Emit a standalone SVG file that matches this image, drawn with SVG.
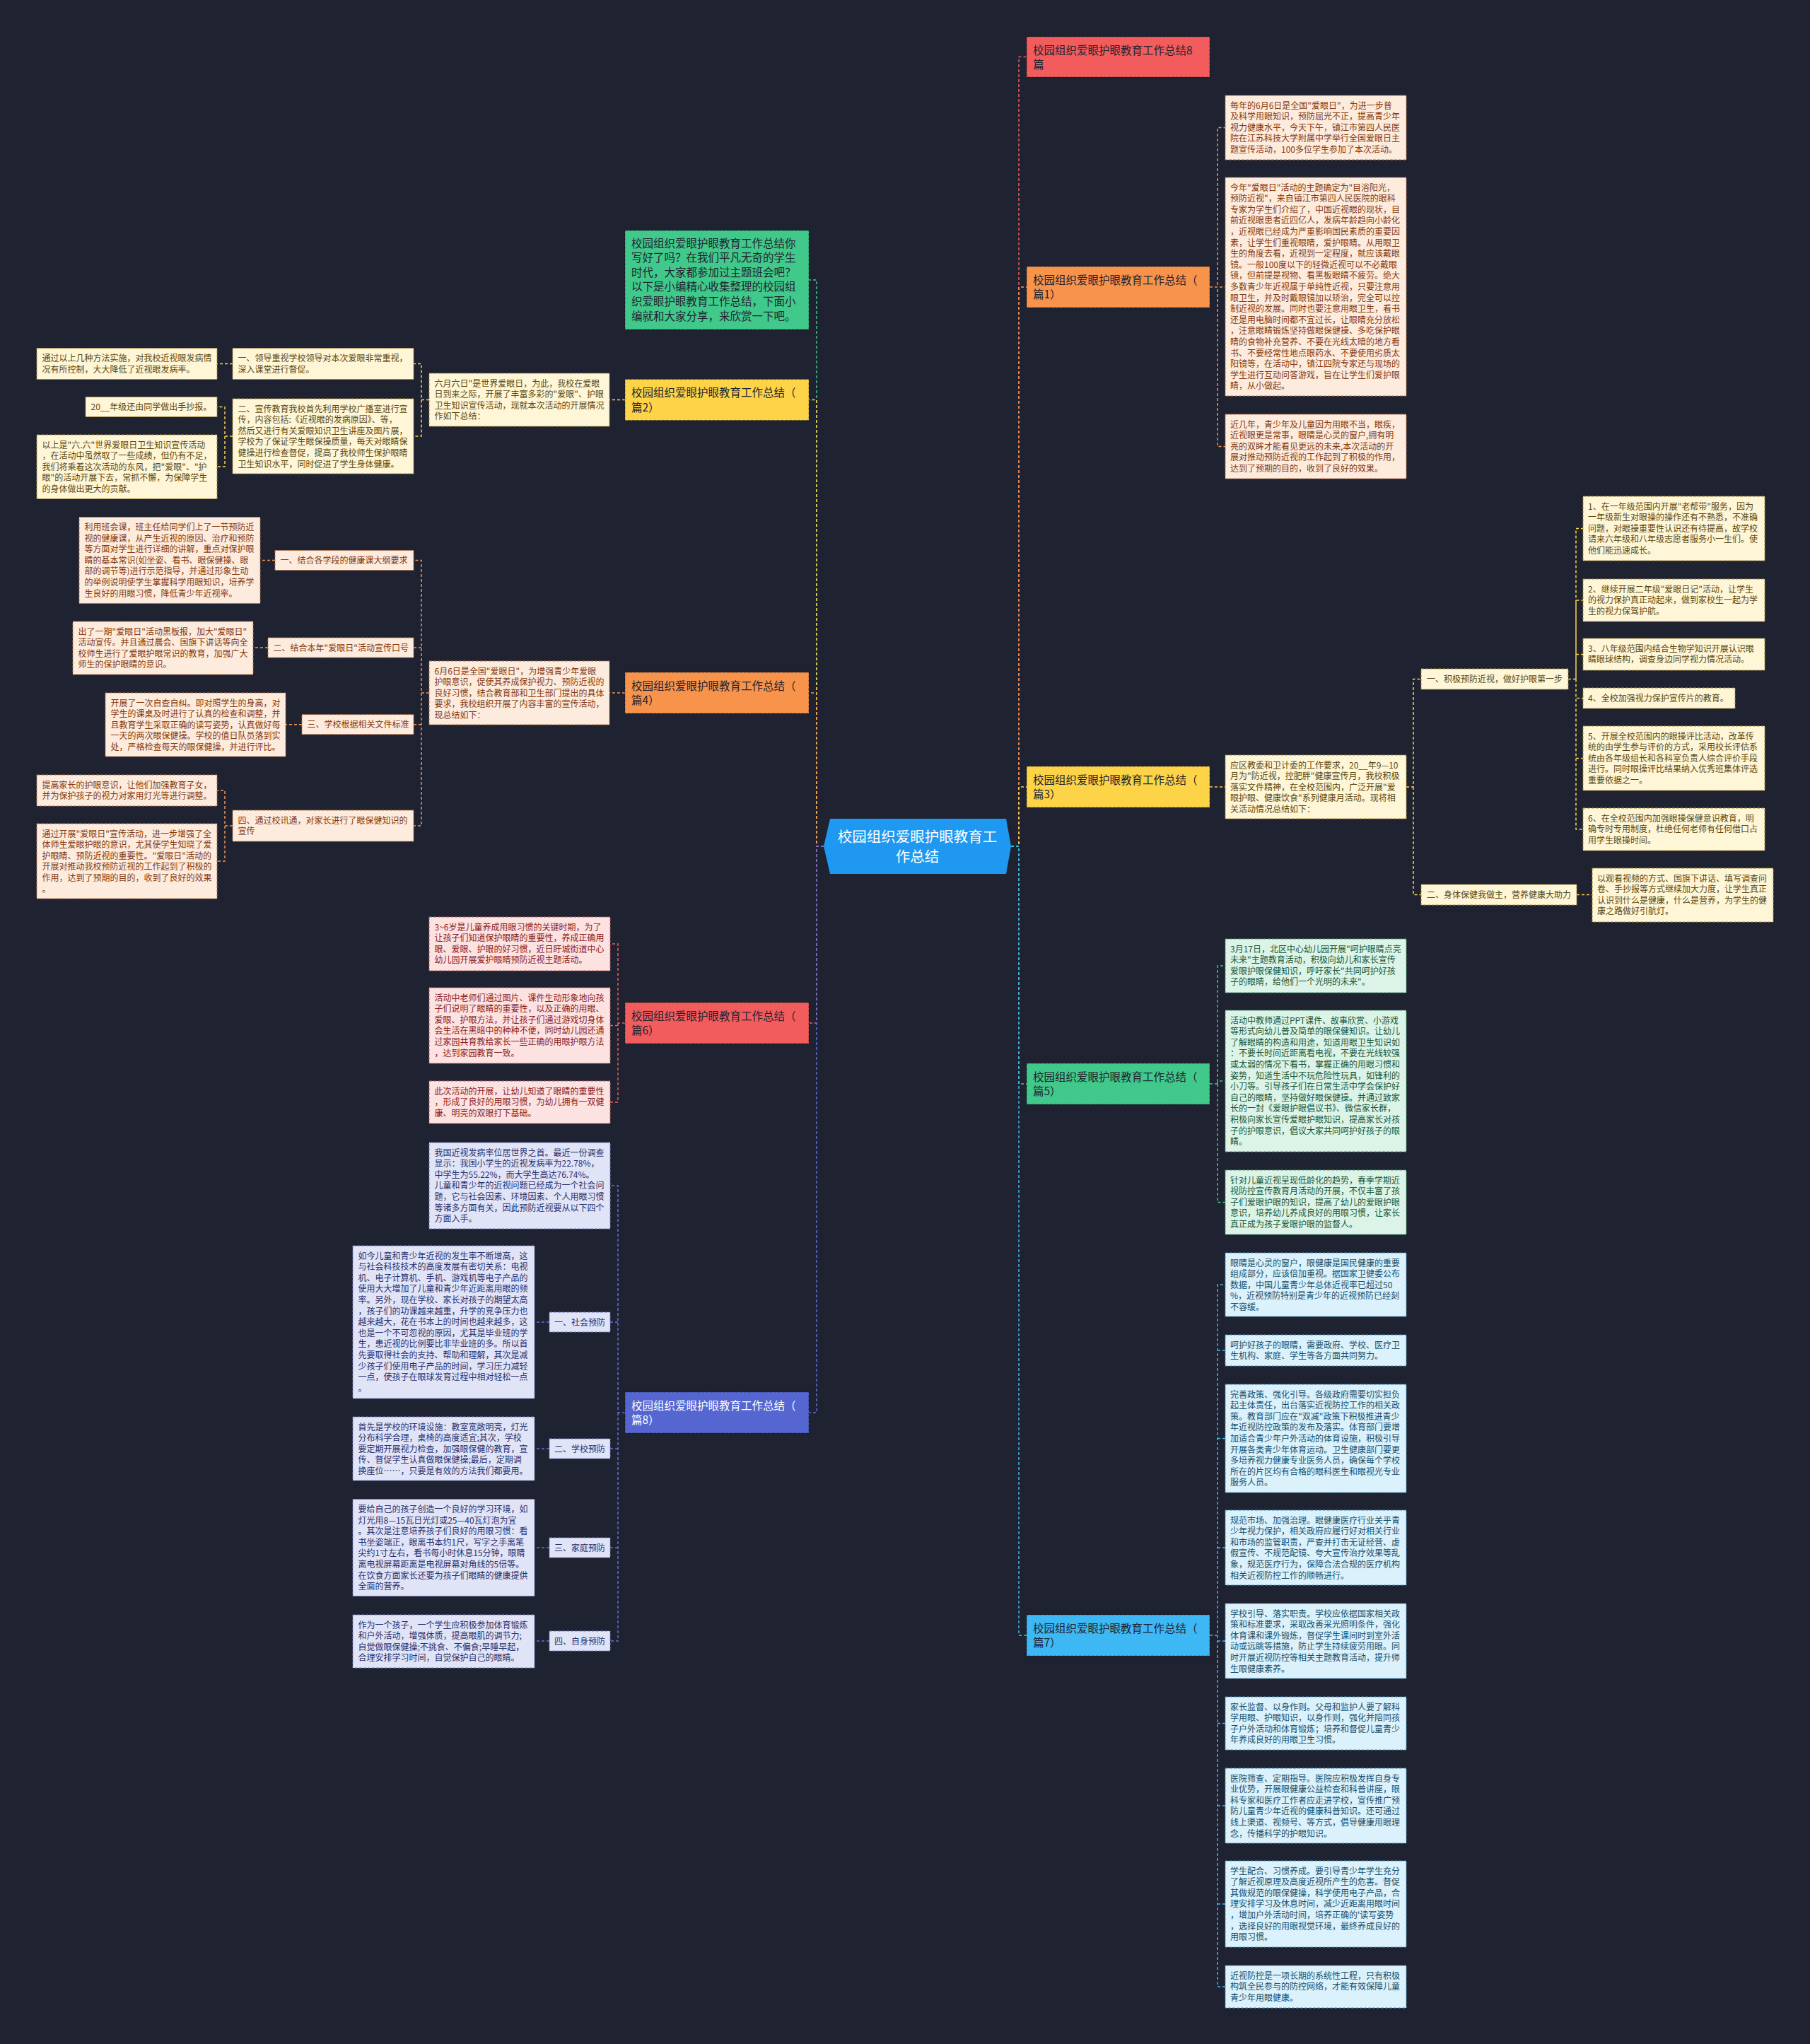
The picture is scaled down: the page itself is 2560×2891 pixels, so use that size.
<svg xmlns="http://www.w3.org/2000/svg" width="2560" height="2891" viewBox="0 0 2560 2891">
<style>
text{font-family:"Noto Sans CJK SC","Noto Sans",sans-serif;font-size:12px}
.bt{font-size:15.5px;fill:#222331}
.bw{font-size:15.5px;fill:#ffffff}
.ct{font-size:20.5px;fill:#ffffff}
.bn{stroke:rgba(0,0,0,0.35);stroke-width:1.2;stroke-dasharray:4 2}
.c{fill:none;stroke-width:1.5;stroke-dasharray:4 3}
.cr{stroke:#f25c5c}.co{stroke:#f7934b}.cy{stroke:#fdd447}.cg{stroke:#40c98a}.cb{stroke:#3db8f5}.cp{stroke:#6272d8}
.lo{fill:#fdecdd;stroke:#b5764c;stroke-width:1;stroke-dasharray:4 2}
.ly{fill:#fff6d8;stroke:#a88f3c;stroke-width:1;stroke-dasharray:4 2}
.lg{fill:#dcf4e7;stroke:#4f9a72;stroke-width:1;stroke-dasharray:4 2}
.lr{fill:#fde2e2;stroke:#c06060;stroke-width:1;stroke-dasharray:4 2}
.lb{fill:#dbf1fb;stroke:#4f93b8;stroke-width:1;stroke-dasharray:4 2}
.lp{fill:#e1e4f7;stroke:#7580c0;stroke-width:1;stroke-dasharray:4 2}
.to{fill:#85380f}.ty{fill:#5a480e}.tg{fill:#17573a}.tr{fill:#8c1b1b}.tb{fill:#15506e}.tp{fill:#26306e}
</style>
<rect width="2560" height="2891" fill="#1f2231"/>
<g id="connectors">
<path class="c cr" d="M1430 1197 H1441 V80.5 H1452"/>
<path class="c co" d="M1430 1197 H1441 V406 H1452"/>
<path class="c cy" d="M1430 1197 H1441 V1113 H1452"/>
<path class="c cg" d="M1430 1197 H1441 V1533 H1452"/>
<path class="c cb" d="M1430 1197 H1441 V2313 H1452"/>
<path class="c cg" d="M1165 1197 H1155 V396 H1144"/>
<path class="c cy" d="M1165 1197 H1155 V565.5 H1144"/>
<path class="c co" d="M1165 1197 H1155 V980 H1144"/>
<path class="c cr" d="M1165 1197 H1155 V1447 H1144"/>
<path class="c cp" d="M1165 1197 H1155 V1998 H1144"/>
<path class="c co" d="M1711 406 H1722 V180.5 H1733 M1711 406 H1733 M1711 406 H1722 V631.5 H1733"/>
<path class="c cy" d="M1711 1113 H1733 M1989 1113 H1999 V960.5 H2010 M1999 1113 V1265.5 H2010"/>
<path class="c cy" d="M2218 960.5 H2229 V747.5 H2239 M2229 960.5 V849 H2239 M2229 960.5 V925.5 H2239 M2229 960.5 V987.5 H2239 M2229 960.5 V1072.5 H2239 M2229 960.5 V1173 H2239 M2230 1265.5 H2252"/>
<path class="c cg" d="M1711 1533 H1722 V1366 H1733 M1722 1533 V1529 H1733 M1722 1533 V1700.5 H1733"/>
<path class="c cb" d="M1711 2313 H1722 V1817 H1733 M1722 1910 H1733 M1722 2034.5 H1733 M1722 2189 H1733 M1722 2313 V2810 H1733 M1722 2321 H1733 M1722 2437.5 H1733 M1722 2554 H1733 M1722 2693 H1733"/>
<path class="c cy" d="M884 565.5 H862 M607 565.5 H596 V514.5 H585 M596 565.5 V617 H585 M329 514.5 H307 M329 617 H318 V575.5 H307 M318 617 V660 H307"/>
<path class="c co" d="M884 980 H862 M607 980 H596 V792.5 H585 M596 980 V1168 H585 M596 916 H585 M596 1024.7 H585 M389 792.5 H368 M379 916 H358 M427 1024.7 H404 M329 1168 H318 V1118 H307 M318 1168 V1218 H307"/>
<path class="c cr" d="M884 1447 H874 V1335 H863 M874 1447 V1559 H863 M874 1450.5 H863"/>
<path class="c cp" d="M884 1998 H874 V1677 H863 M874 1998 V2321 H863 M874 1870 H863 M874 2049 H863 M874 2189 H863 M777 1870 H756 M777 2049 H756 M777 2189 H756 M777 2321 H756"/>
</g>
<g id="center">
<polygon points="1165,1197 1174,1158 1423,1158 1430,1197 1423,1236 1174,1236" fill="#1e98f0"/>
<text class="ct" x="1297.5" y="1190.5" text-anchor="middle">校园组织爱眼护眼教育工</text>
<text class="ct" x="1297.5" y="1218.5" text-anchor="middle">作总结</text>
</g>
<g id="title">
<rect class="bn" x="1452" y="52" width="259" height="57" fill="#f25c5c"/>
<text class="bt" x="1461" y="76.5"><tspan x="1461" dy="0">校园组织爱眼护眼教育工作总结8</tspan><tspan x="1461" dy="20.6">篇</tspan></text>
</g>
<g id="p1">
<rect class="bn" x="1452" y="377" width="259" height="58" fill="#f7934b"/>
<text class="bt" x="1461" y="401.5"><tspan x="1461" dy="0">校园组织爱眼护眼教育工作总结（</tspan><tspan x="1461" dy="20.6">篇1）</tspan></text>
</g>
<g id="p1-a">
<rect class="lo" x="1733" y="135" width="256" height="91"/>
<text class="to" x="1740" y="153.5"><tspan x="1740" dy="0">每年的6月6日是全国"爱眼日"，为进一步普</tspan><tspan x="1740" dy="15.6">及科学用眼知识，预防屈光不正，提高青少年</tspan><tspan x="1740" dy="15.6">视力健康水平，今天下午，镇江市第四人民医</tspan><tspan x="1740" dy="15.6">院在江苏科技大学附属中学举行全国爱眼日主</tspan><tspan x="1740" dy="15.6">题宣传活动，100多位学生参加了本次活动。</tspan></text>
</g>
<g id="p1-b">
<rect class="lo" x="1733" y="251" width="256" height="309"/>
<text class="to" x="1740" y="269.5"><tspan x="1740" dy="0">今年"爱眼日"活动的主题确定为"目浴阳光，</tspan><tspan x="1740" dy="15.6">预防近视"，来自镇江市第四人民医院的眼科</tspan><tspan x="1740" dy="15.6">专家为学生们介绍了，中国近视眼的现状，目</tspan><tspan x="1740" dy="15.6">前近视眼患者近四亿人，发病年龄趋向小龄化</tspan><tspan x="1740" dy="15.6">，近视眼已经成为严重影响国民素质的重要因</tspan><tspan x="1740" dy="15.6">素，让学生们重视眼睛，爱护眼睛。从用眼卫</tspan><tspan x="1740" dy="15.6">生的角度去看，近视到一定程度，就应该戴眼</tspan><tspan x="1740" dy="15.6">镜。一般100度以下的轻微近视可以不必戴眼</tspan><tspan x="1740" dy="15.6">镜，但前提是视物、看黑板眼睛不疲劳。绝大</tspan><tspan x="1740" dy="15.6">多数青少年近视属于单纯性近视，只要注意用</tspan><tspan x="1740" dy="15.6">眼卫生，并及时戴眼镜加以矫治，完全可以控</tspan><tspan x="1740" dy="15.6">制近视的发展。同时也要注意用眼卫生，看书</tspan><tspan x="1740" dy="15.6">还是用电脑时间都不宜过长，让眼睛充分放松</tspan><tspan x="1740" dy="15.6">，注意眼睛锻炼坚持做眼保健操、多吃保护眼</tspan><tspan x="1740" dy="15.6">睛的食物补充营养、不要在光线太暗的地方看</tspan><tspan x="1740" dy="15.6">书、不要经常性地点眼药水、不要使用劣质太</tspan><tspan x="1740" dy="15.6">阳镜等，在活动中，镇江四院专家还与现场的</tspan><tspan x="1740" dy="15.6">学生进行互动问答游戏，旨在让学生们爱护眼</tspan><tspan x="1740" dy="15.6">睛，从小做起。</tspan></text>
</g>
<g id="p1-c">
<rect class="lo" x="1733" y="586" width="256" height="91"/>
<text class="to" x="1740" y="604.5"><tspan x="1740" dy="0">近几年，青少年及儿童因为用眼不当，眼疾，</tspan><tspan x="1740" dy="15.6">近视眼更是常事，眼睛是心灵的窗户,拥有明</tspan><tspan x="1740" dy="15.6">亮的双眸才能看见更远的未来,本次活动的开</tspan><tspan x="1740" dy="15.6">展对推动预防近视的工作起到了积极的作用，</tspan><tspan x="1740" dy="15.6">达到了预期的目的，收到了良好的效果。</tspan></text>
</g>
<g id="p3">
<rect class="bn" x="1452" y="1084" width="259" height="58" fill="#fdd447"/>
<text class="bt" x="1461" y="1108.5"><tspan x="1461" dy="0">校园组织爱眼护眼教育工作总结（</tspan><tspan x="1461" dy="20.6">篇3）</tspan></text>
</g>
<g id="p3-intro">
<rect class="ly" x="1733" y="1068" width="256" height="90"/>
<text class="ty" x="1740" y="1086.5"><tspan x="1740" dy="0">应区教委和卫计委的工作要求，20__年9—10</tspan><tspan x="1740" dy="15.6">月为"防近视，控肥胖"健康宣传月，我校积极</tspan><tspan x="1740" dy="15.6">落实文件精神，在全校范围内，广泛开展"爱</tspan><tspan x="1740" dy="15.6">眼护眼、健康饮食"系列健康月活动。现将相</tspan><tspan x="1740" dy="15.6">关活动情况总结如下：</tspan></text>
</g>
<g id="p3-s1">
<rect class="ly" x="2010" y="946" width="208" height="29"/>
<text class="ty" x="2018" y="964.5">一、积极预防近视，做好护眼第一步</text>
</g>
<g id="p3-s2">
<rect class="ly" x="2010" y="1251" width="220" height="29"/>
<text class="ty" x="2018" y="1269.5">二、身体保健我做主，营养健康大助力</text>
</g>
<g id="p3-s1-1">
<rect class="ly" x="2239" y="702" width="257" height="91"/>
<text class="ty" x="2246" y="720.5"><tspan x="2246" dy="0">1、在一年级范围内开展"老帮带"服务，因为</tspan><tspan x="2246" dy="15.6">一年级新生对眼操的操作还有不熟悉，不准确</tspan><tspan x="2246" dy="15.6">问题，对眼操重要性认识还有待提高，故学校</tspan><tspan x="2246" dy="15.6">请来六年级和八年级志愿者服务小一生们。使</tspan><tspan x="2246" dy="15.6">他们能迅速成长。</tspan></text>
</g>
<g id="p3-s1-2">
<rect class="ly" x="2239" y="819" width="257" height="60"/>
<text class="ty" x="2246" y="837.5"><tspan x="2246" dy="0">2、继续开展二年级"爱眼日记"活动，让学生</tspan><tspan x="2246" dy="15.6">的视力保护真正动起来，做到家校生一起为学</tspan><tspan x="2246" dy="15.6">生的视力保驾护航。</tspan></text>
</g>
<g id="p3-s1-3">
<rect class="ly" x="2239" y="903" width="257" height="45"/>
<text class="ty" x="2246" y="921.5"><tspan x="2246" dy="0">3、八年级范围内结合生物学知识开展认识眼</tspan><tspan x="2246" dy="15.6">睛眼球结构，调查身边同学视力情况活动。</tspan></text>
</g>
<g id="p3-s1-4">
<rect class="ly" x="2239" y="973" width="215" height="29"/>
<text class="ty" x="2246" y="991.5">4、全校加强视力保护宣传片的教育。</text>
</g>
<g id="p3-s1-5">
<rect class="ly" x="2239" y="1027" width="257" height="91"/>
<text class="ty" x="2246" y="1045.5"><tspan x="2246" dy="0">5、开展全校范围内的眼操评比活动，改革传</tspan><tspan x="2246" dy="15.6">统的由学生参与评价的方式，采用校长评估系</tspan><tspan x="2246" dy="15.6">统由各年级组长和各科室负责人综合评价手段</tspan><tspan x="2246" dy="15.6">进行。同时眼操评比结果纳入优秀班集体评选</tspan><tspan x="2246" dy="15.6">重要依据之一。</tspan></text>
</g>
<g id="p3-s1-6">
<rect class="ly" x="2239" y="1143" width="257" height="60"/>
<text class="ty" x="2246" y="1161.5"><tspan x="2246" dy="0">6、在全校范围内加强眼操保健意识教育，明</tspan><tspan x="2246" dy="15.6">确专时专用制度，杜绝任何老师有任何借口占</tspan><tspan x="2246" dy="15.6">用学生眼操时间。</tspan></text>
</g>
<g id="p3-s2-1">
<rect class="ly" x="2252" y="1228" width="256" height="76"/>
<text class="ty" x="2259" y="1246.5"><tspan x="2259" dy="0">以观看视频的方式、国旗下讲话、填写调查问</tspan><tspan x="2259" dy="15.6">卷、手抄报等方式继续加大力度，让学生真正</tspan><tspan x="2259" dy="15.6">认识到什么是健康，什么是营养，为学生的健</tspan><tspan x="2259" dy="15.6">康之路做好引航灯。</tspan></text>
</g>
<g id="p5">
<rect class="bn" x="1452" y="1504" width="259" height="58" fill="#40c98a"/>
<text class="bt" x="1461" y="1528.5"><tspan x="1461" dy="0">校园组织爱眼护眼教育工作总结（</tspan><tspan x="1461" dy="20.6">篇5）</tspan></text>
</g>
<g id="p5-a">
<rect class="lg" x="1733" y="1328" width="256" height="76"/>
<text class="tg" x="1740" y="1346.5"><tspan x="1740" dy="0">3月17日，北区中心幼儿园开展"呵护眼睛点亮</tspan><tspan x="1740" dy="15.6">未来"主题教育活动，积极向幼儿和家长宣传</tspan><tspan x="1740" dy="15.6">爱眼护眼保健知识，呼吁家长"共同呵护好孩</tspan><tspan x="1740" dy="15.6">子的眼睛，给他们一个光明的未来"。</tspan></text>
</g>
<g id="p5-b">
<rect class="lg" x="1733" y="1429" width="256" height="200"/>
<text class="tg" x="1740" y="1447.5"><tspan x="1740" dy="0">活动中教师通过PPT课件、故事欣赏、小游戏</tspan><tspan x="1740" dy="15.6">等形式向幼儿普及简单的眼保健知识。让幼儿</tspan><tspan x="1740" dy="15.6">了解眼睛的构造和用途，知道用眼卫生知识如</tspan><tspan x="1740" dy="15.6">：不要长时间近距离看电视，不要在光线较强</tspan><tspan x="1740" dy="15.6">或太弱的情况下看书，掌握正确的用眼习惯和</tspan><tspan x="1740" dy="15.6">姿势，知道生活中不玩危险性玩具，如锋利的</tspan><tspan x="1740" dy="15.6">小刀等。引导孩子们在日常生活中学会保护好</tspan><tspan x="1740" dy="15.6">自己的眼睛，坚持做好眼保健操。并通过致家</tspan><tspan x="1740" dy="15.6">长的一封《爱眼护眼倡议书》、微信家长群，</tspan><tspan x="1740" dy="15.6">积极向家长宣传爱眼护眼知识，提高家长对孩</tspan><tspan x="1740" dy="15.6">子的护眼意识，倡议大家共同呵护好孩子的眼</tspan><tspan x="1740" dy="15.6">睛。</tspan></text>
</g>
<g id="p5-c">
<rect class="lg" x="1733" y="1655" width="256" height="91"/>
<text class="tg" x="1740" y="1673.5"><tspan x="1740" dy="0">针对儿童近视呈现低龄化的趋势，春季学期近</tspan><tspan x="1740" dy="15.6">视防控宣传教育月活动的开展，不仅丰富了孩</tspan><tspan x="1740" dy="15.6">子们爱眼护眼的知识，提高了幼儿的爱眼护眼</tspan><tspan x="1740" dy="15.6">意识，培养幼儿养成良好的用眼习惯，让家长</tspan><tspan x="1740" dy="15.6">真正成为孩子爱眼护眼的监督人。</tspan></text>
</g>
<g id="p7">
<rect class="bn" x="1452" y="2284" width="259" height="58" fill="#3db8f5"/>
<text class="bt" x="1461" y="2308.5"><tspan x="1461" dy="0">校园组织爱眼护眼教育工作总结（</tspan><tspan x="1461" dy="20.6">篇7）</tspan></text>
</g>
<g id="p7-a">
<rect class="lb" x="1733" y="1772" width="256" height="90"/>
<text class="tb" x="1740" y="1790.5"><tspan x="1740" dy="0">眼睛是心灵的窗户，眼健康是国民健康的重要</tspan><tspan x="1740" dy="15.6">组成部分，应该倍加重视。据国家卫健委公布</tspan><tspan x="1740" dy="15.6">数据，中国儿童青少年总体近视率已超过50</tspan><tspan x="1740" dy="15.6">%，近视预防特别是青少年的近视预防已经刻</tspan><tspan x="1740" dy="15.6">不容缓。</tspan></text>
</g>
<g id="p7-b">
<rect class="lb" x="1733" y="1888" width="256" height="44"/>
<text class="tb" x="1740" y="1906.5"><tspan x="1740" dy="0">呵护好孩子的眼睛，需要政府、学校、医疗卫</tspan><tspan x="1740" dy="15.6">生机构、家庭、学生等各方面共同努力。</tspan></text>
</g>
<g id="p7-c">
<rect class="lb" x="1733" y="1958" width="256" height="153"/>
<text class="tb" x="1740" y="1976.5"><tspan x="1740" dy="0">完善政策、强化引导。各级政府需要切实担负</tspan><tspan x="1740" dy="15.6">起主体责任，出台落实近视防控工作的相关政</tspan><tspan x="1740" dy="15.6">策。教育部门应在"双减"政策下积极推进青少</tspan><tspan x="1740" dy="15.6">年近视防控政策的发布及落实。体育部门要增</tspan><tspan x="1740" dy="15.6">加适合青少年户外活动的体育设施，积极引导</tspan><tspan x="1740" dy="15.6">开展各类青少年体育运动。卫生健康部门要更</tspan><tspan x="1740" dy="15.6">多培养视力健康专业医务人员，确保每个学校</tspan><tspan x="1740" dy="15.6">所在的片区均有合格的眼科医生和眼视光专业</tspan><tspan x="1740" dy="15.6">服务人员。</tspan></text>
</g>
<g id="p7-d">
<rect class="lb" x="1733" y="2136" width="256" height="106"/>
<text class="tb" x="1740" y="2154.5"><tspan x="1740" dy="0">规范市场、加强治理。眼健康医疗行业关乎青</tspan><tspan x="1740" dy="15.6">少年视力保护，相关政府应履行好对相关行业</tspan><tspan x="1740" dy="15.6">和市场的监管职责，严查并打击无证经营、虚</tspan><tspan x="1740" dy="15.6">假宣传、不规范配镜、夸大宣传治疗效果等乱</tspan><tspan x="1740" dy="15.6">象，规范医疗行为，保障合法合规的医疗机构</tspan><tspan x="1740" dy="15.6">相关近视防控工作的顺畅进行。</tspan></text>
</g>
<g id="p7-e">
<rect class="lb" x="1733" y="2268" width="256" height="106"/>
<text class="tb" x="1740" y="2286.5"><tspan x="1740" dy="0">学校引导、落实职责。学校应依据国家相关政</tspan><tspan x="1740" dy="15.6">策和标准要求，采取改善采光照明条件，强化</tspan><tspan x="1740" dy="15.6">体育课和课外锻炼，督促学生课间时到室外活</tspan><tspan x="1740" dy="15.6">动或远眺等措施，防止学生持续疲劳用眼。同</tspan><tspan x="1740" dy="15.6">时开展近视防控等相关主题教育活动，提升师</tspan><tspan x="1740" dy="15.6">生眼健康素养。</tspan></text>
</g>
<g id="p7-f">
<rect class="lb" x="1733" y="2400" width="256" height="75"/>
<text class="tb" x="1740" y="2418.5"><tspan x="1740" dy="0">家长监督、以身作则。父母和监护人要了解科</tspan><tspan x="1740" dy="15.6">学用眼、护眼知识，以身作则，强化并陪同孩</tspan><tspan x="1740" dy="15.6">子户外活动和体育锻炼；培养和督促儿童青少</tspan><tspan x="1740" dy="15.6">年养成良好的用眼卫生习惯。</tspan></text>
</g>
<g id="p7-g">
<rect class="lb" x="1733" y="2501" width="256" height="106"/>
<text class="tb" x="1740" y="2519.5"><tspan x="1740" dy="0">医院筛查、定期指导。医院应积极发挥自身专</tspan><tspan x="1740" dy="15.6">业优势，开展眼健康公益检查和科普讲座，眼</tspan><tspan x="1740" dy="15.6">科专家和医疗工作者应走进学校，宣传推广预</tspan><tspan x="1740" dy="15.6">防儿童青少年近视的健康科普知识。还可通过</tspan><tspan x="1740" dy="15.6">线上渠道、视频号、等方式，倡导健康用眼理</tspan><tspan x="1740" dy="15.6">念，传播科学的护眼知识。</tspan></text>
</g>
<g id="p7-h">
<rect class="lb" x="1733" y="2632" width="256" height="122"/>
<text class="tb" x="1740" y="2650.5"><tspan x="1740" dy="0">学生配合、习惯养成。要引导青少年学生充分</tspan><tspan x="1740" dy="15.6">了解近视原理及高度近视所产生的危害。督促</tspan><tspan x="1740" dy="15.6">其做规范的眼保健操，科学使用电子产品，合</tspan><tspan x="1740" dy="15.6">理安排学习及休息时间，减少近距离用眼时间</tspan><tspan x="1740" dy="15.6">，增加户外活动时间，培养正确的'读写姿势</tspan><tspan x="1740" dy="15.6">，选择良好的用眼视觉环境，最终养成良好的</tspan><tspan x="1740" dy="15.6">用眼习惯。</tspan></text>
</g>
<g id="p7-i">
<rect class="lb" x="1733" y="2780" width="256" height="60"/>
<text class="tb" x="1740" y="2798.5"><tspan x="1740" dy="0">近视防控是一项长期的系统性工程，只有积极</tspan><tspan x="1740" dy="15.6">构筑全民参与的防控网络，才能有效保障儿童</tspan><tspan x="1740" dy="15.6">青少年用眼健康。</tspan></text>
</g>
<g id="intro">
<rect class="bn" x="884" y="326" width="260" height="140" fill="#40c98a"/>
<text class="bt" x="893" y="349.5"><tspan x="893" dy="0">校园组织爱眼护眼教育工作总结你</tspan><tspan x="893" dy="20.6">写好了吗？在我们平凡无奇的学生</tspan><tspan x="893" dy="20.6">时代，大家都参加过主题班会吧？</tspan><tspan x="893" dy="20.6">以下是小编精心收集整理的校园组</tspan><tspan x="893" dy="20.6">织爱眼护眼教育工作总结，下面小</tspan><tspan x="893" dy="20.6">编就和大家分享，来欣赏一下吧。</tspan></text>
</g>
<g id="p2">
<rect class="bn" x="884" y="536.5" width="260" height="58" fill="#fdd447"/>
<text class="bt" x="893" y="561"><tspan x="893" dy="0">校园组织爱眼护眼教育工作总结（</tspan><tspan x="893" dy="20.6">篇2）</tspan></text>
</g>
<g id="p2-intro">
<rect class="ly" x="607" y="528" width="255" height="75"/>
<text class="ty" x="614.5" y="546.5"><tspan x="614.5" dy="0">六月六日"是世界爱眼日，为此，我校在爱眼</tspan><tspan x="614.5" dy="15.6">日到来之际，开展了丰富多彩的"爱眼"、护眼</tspan><tspan x="614.5" dy="15.6">卫生知识宣传活动，现就本次活动的开展情况</tspan><tspan x="614.5" dy="15.6">作如下总结：</tspan></text>
</g>
<g id="p2-s1">
<rect class="ly" x="329" y="492.5" width="256" height="44"/>
<text class="ty" x="336.5" y="511"><tspan x="336.5" dy="0">一、领导重视学校领导对本次爱眼非常重视，</tspan><tspan x="336.5" dy="15.6">深入课堂进行督促。</tspan></text>
</g>
<g id="p2-s2">
<rect class="ly" x="329" y="564" width="256" height="106"/>
<text class="ty" x="336.5" y="582.5"><tspan x="336.5" dy="0">二、宣传教育我校首先利用学校广播室进行宣</tspan><tspan x="336.5" dy="15.6">传，内容包括:《近视眼的发病原因》、等，</tspan><tspan x="336.5" dy="15.6">然后又进行有关爱眼知识卫生讲座及图片展，</tspan><tspan x="336.5" dy="15.6">学校为了保证学生眼保操质量，每天对眼睛保</tspan><tspan x="336.5" dy="15.6">健操进行检查督促，提高了我校师生保护眼睛</tspan><tspan x="336.5" dy="15.6">卫生知识水平，同时促进了学生身体健康。</tspan></text>
</g>
<g id="p2-s1-1">
<rect class="ly" x="52" y="492.5" width="255" height="44"/>
<text class="ty" x="59.5" y="511"><tspan x="59.5" dy="0">通过以上几种方法实施，对我校近视眼发病情</tspan><tspan x="59.5" dy="15.6">况有所控制，大大降低了近视眼发病率。</tspan></text>
</g>
<g id="p2-s2-1">
<rect class="ly" x="121" y="561.5" width="186" height="28"/>
<text class="ty" x="128.5" y="580">20__年级还由同学做出手抄报。</text>
</g>
<g id="p2-s2-2">
<rect class="ly" x="52" y="615" width="255" height="90.5"/>
<text class="ty" x="59.5" y="633.5"><tspan x="59.5" dy="0">以上是"六.六"世界爱眼日卫生知识宣传活动</tspan><tspan x="59.5" dy="15.6">，在活动中虽然取了一些成绩，但仍有不足，</tspan><tspan x="59.5" dy="15.6">我们将乘着这次活动的东风，把"爱眼"、"护</tspan><tspan x="59.5" dy="15.6">眼"的活动开展下去，常抓不懈，为保障学生</tspan><tspan x="59.5" dy="15.6">的身体做出更大的贡献。</tspan></text>
</g>
<g id="p4">
<rect class="bn" x="884" y="951" width="260" height="58" fill="#f7934b"/>
<text class="bt" x="893" y="975.5"><tspan x="893" dy="0">校园组织爱眼护眼教育工作总结（</tspan><tspan x="893" dy="20.6">篇4）</tspan></text>
</g>
<g id="p4-intro">
<rect class="lo" x="607" y="935" width="255" height="90"/>
<text class="to" x="614.5" y="953.5"><tspan x="614.5" dy="0">6月6日是全国"爱眼日"，为增强青少年爱眼</tspan><tspan x="614.5" dy="15.6">护眼意识，促使其养成保护视力、预防近视的</tspan><tspan x="614.5" dy="15.6">良好习惯，结合教育部和卫生部门提出的具体</tspan><tspan x="614.5" dy="15.6">要求，我校组织开展了内容丰富的宣传活动，</tspan><tspan x="614.5" dy="15.6">现总结如下：</tspan></text>
</g>
<g id="p4-s1">
<rect class="lo" x="389" y="778.5" width="196" height="28"/>
<text class="to" x="396.5" y="797">一、结合各学段的健康课大纲要求</text>
</g>
<g id="p4-s2">
<rect class="lo" x="379" y="902" width="206" height="28"/>
<text class="to" x="386.5" y="920.5">二、结合本年"爱眼日"活动宣传口号</text>
</g>
<g id="p4-s3">
<rect class="lo" x="427" y="1010.7" width="158" height="28"/>
<text class="to" x="434.5" y="1029.2">三、学校根据相关文件标准</text>
</g>
<g id="p4-s4">
<rect class="lo" x="329" y="1146" width="256" height="44"/>
<text class="to" x="336.5" y="1164.5"><tspan x="336.5" dy="0">四、通过校讯通，对家长进行了眼保健知识的</tspan><tspan x="336.5" dy="15.6">宣传</tspan></text>
</g>
<g id="p4-s1-1">
<rect class="lo" x="112" y="731.5" width="256" height="122"/>
<text class="to" x="119.5" y="750"><tspan x="119.5" dy="0">利用班会课，班主任给同学们上了一节预防近</tspan><tspan x="119.5" dy="15.6">视的健康课，从产生近视的原因、治疗和预防</tspan><tspan x="119.5" dy="15.6">等方面对学生进行详细的讲解，重点对保护眼</tspan><tspan x="119.5" dy="15.6">睛的基本常识(如坐姿、看书、眼保健操、眼</tspan><tspan x="119.5" dy="15.6">部的调节等)进行示范指导，并通过形象生动</tspan><tspan x="119.5" dy="15.6">的举例说明使学生掌握科学用眼知识，培养学</tspan><tspan x="119.5" dy="15.6">生良好的用眼习惯，降低青少年近视率。</tspan></text>
</g>
<g id="p4-s2-1">
<rect class="lo" x="103" y="879" width="255" height="75"/>
<text class="to" x="110.5" y="897.5"><tspan x="110.5" dy="0">出了一期"爱眼日"活动黑板报，加大"爱眼日"</tspan><tspan x="110.5" dy="15.6">活动宣传。并且通过晨会、国旗下讲话等向全</tspan><tspan x="110.5" dy="15.6">校师生进行了爱眼护眼常识的教育，加强广大</tspan><tspan x="110.5" dy="15.6">师生的保护眼睛的意识。</tspan></text>
</g>
<g id="p4-s3-1">
<rect class="lo" x="149" y="980" width="255" height="90"/>
<text class="to" x="156.5" y="998.5"><tspan x="156.5" dy="0">开展了一次自查自纠。即对照学生的身高，对</tspan><tspan x="156.5" dy="15.6">学生的课桌及时进行了认真的检查和调整，并</tspan><tspan x="156.5" dy="15.6">且教育学生采取正确的读写姿势，认真做好每</tspan><tspan x="156.5" dy="15.6">一天的两次眼保健操。学校的值日队员落到实</tspan><tspan x="156.5" dy="15.6">处，严格检查每天的眼保健操，并进行评比。</tspan></text>
</g>
<g id="p4-s4-1">
<rect class="lo" x="52" y="1096" width="255" height="44"/>
<text class="to" x="59.5" y="1114.5"><tspan x="59.5" dy="0">提高家长的护眼意识，让他们加强教育子女，</tspan><tspan x="59.5" dy="15.6">并为保护孩子的视力对家用灯光等进行调整。</tspan></text>
</g>
<g id="p4-s4-2">
<rect class="lo" x="52" y="1165" width="255" height="106"/>
<text class="to" x="59.5" y="1183.5"><tspan x="59.5" dy="0">通过开展"爱眼日"宣传活动，进一步增强了全</tspan><tspan x="59.5" dy="15.6">体师生爱眼护眼的意识，尤其使学生知晓了爱</tspan><tspan x="59.5" dy="15.6">护眼睛、预防近视的重要性。"爱眼日"活动的</tspan><tspan x="59.5" dy="15.6">开展对推动我校预防近视的工作起到了积极的</tspan><tspan x="59.5" dy="15.6">作用，达到了预期的目的，收到了良好的效果</tspan><tspan x="59.5" dy="15.6">。</tspan></text>
</g>
<g id="p6">
<rect class="bn" x="884" y="1418" width="260" height="58" fill="#f25c5c"/>
<text class="bt" x="893" y="1442.5"><tspan x="893" dy="0">校园组织爱眼护眼教育工作总结（</tspan><tspan x="893" dy="20.6">篇6）</tspan></text>
</g>
<g id="p6-a">
<rect class="lr" x="607" y="1297" width="256" height="76"/>
<text class="tr" x="614.5" y="1315.5"><tspan x="614.5" dy="0">3~6岁是儿童养成用眼习惯的关键时期，为了</tspan><tspan x="614.5" dy="15.6">让孩子们知道保护眼睛的重要性，养成正确用</tspan><tspan x="614.5" dy="15.6">眼、爱眼、护眼的好习惯，近日盱城街道中心</tspan><tspan x="614.5" dy="15.6">幼儿园开展爱护眼睛预防近视主题活动。</tspan></text>
</g>
<g id="p6-b">
<rect class="lr" x="607" y="1397" width="256" height="107"/>
<text class="tr" x="614.5" y="1415.5"><tspan x="614.5" dy="0">活动中老师们通过图片、课件生动形象地向孩</tspan><tspan x="614.5" dy="15.6">子们说明了眼睛的重要性，以及正确的用眼、</tspan><tspan x="614.5" dy="15.6">爱眼、护眼方法，并让孩子们通过游戏切身体</tspan><tspan x="614.5" dy="15.6">会生活在黑暗中的种种不便，同时幼儿园还通</tspan><tspan x="614.5" dy="15.6">过家园共育教给家长一些正确的用眼护眼方法</tspan><tspan x="614.5" dy="15.6">，达到家园教育一致。</tspan></text>
</g>
<g id="p6-c">
<rect class="lr" x="607" y="1529" width="256" height="60"/>
<text class="tr" x="614.5" y="1547.5"><tspan x="614.5" dy="0">此次活动的开展，让幼儿知道了眼睛的重要性</tspan><tspan x="614.5" dy="15.6">，形成了良好的用眼习惯，为幼儿拥有一双健</tspan><tspan x="614.5" dy="15.6">康、明亮的双眼打下基础。</tspan></text>
</g>
<g id="p8">
<rect class="bn" x="884" y="1969" width="260" height="58" fill="#5566d1"/>
<text class="bw" x="893" y="1993.5"><tspan x="893" dy="0">校园组织爱眼护眼教育工作总结（</tspan><tspan x="893" dy="20.6">篇8）</tspan></text>
</g>
<g id="p8-intro">
<rect class="lp" x="607" y="1616" width="256" height="122"/>
<text class="tp" x="614.5" y="1634.5"><tspan x="614.5" dy="0">我国近视发病率位居世界之首。最近一份调查</tspan><tspan x="614.5" dy="15.6">显示：我国小学生的近视发病率为22.78%，</tspan><tspan x="614.5" dy="15.6">中学生为55.22%，而大学生高达76.74%。</tspan><tspan x="614.5" dy="15.6">儿童和青少年的近视问题已经成为一个社会问</tspan><tspan x="614.5" dy="15.6">题，它与社会因素、环境因素、个人用眼习惯</tspan><tspan x="614.5" dy="15.6">等诸多方面有关，因此预防近视要从以下四个</tspan><tspan x="614.5" dy="15.6">方面入手。</tspan></text>
</g>
<g id="p8-s1">
<rect class="lp" x="777" y="1856" width="86" height="28"/>
<text class="tp" x="784" y="1874.5">一、社会预防</text>
</g>
<g id="p8-s2">
<rect class="lp" x="777" y="2035" width="86" height="28"/>
<text class="tp" x="784" y="2053.5">二、学校预防</text>
</g>
<g id="p8-s3">
<rect class="lp" x="777" y="2175" width="86" height="28"/>
<text class="tp" x="784" y="2193.5">三、家庭预防</text>
</g>
<g id="p8-s4">
<rect class="lp" x="777" y="2307" width="86" height="28"/>
<text class="tp" x="784" y="2325.5">四、自身预防</text>
</g>
<g id="p8-s1-1">
<rect class="lp" x="499" y="1762" width="257" height="216"/>
<text class="tp" x="506.5" y="1780.5"><tspan x="506.5" dy="0">如今儿童和青少年近视的发生率不断增高，这</tspan><tspan x="506.5" dy="15.6">与社会科技技术的高度发展有密切关系：电视</tspan><tspan x="506.5" dy="15.6">机、电子计算机、手机、游戏机等电子产品的</tspan><tspan x="506.5" dy="15.6">使用大大增加了儿童和青少年近距离用眼的频</tspan><tspan x="506.5" dy="15.6">率。另外，现在学校、家长对孩子的期望太高</tspan><tspan x="506.5" dy="15.6">，孩子们的功课越来越重，升学的竞争压力也</tspan><tspan x="506.5" dy="15.6">越来越大，花在书本上的时间也越来越多，这</tspan><tspan x="506.5" dy="15.6">也是一个不可忽视的原因，尤其是毕业班的学</tspan><tspan x="506.5" dy="15.6">生，患近视的比例要比非毕业班的多。所以首</tspan><tspan x="506.5" dy="15.6">先要取得社会的支持、帮助和理解，其次是减</tspan><tspan x="506.5" dy="15.6">少孩子们使用电子产品的时间，学习压力减轻</tspan><tspan x="506.5" dy="15.6">一点，使孩子在眼球发育过程中相对轻松一点</tspan><tspan x="506.5" dy="15.6">。</tspan></text>
</g>
<g id="p8-s2-1">
<rect class="lp" x="499" y="2004" width="257" height="90"/>
<text class="tp" x="506.5" y="2022.5"><tspan x="506.5" dy="0">首先是学校的环境设施：教室宽敞明亮，灯光</tspan><tspan x="506.5" dy="15.6">分布科学合理，桌椅的高度适宜;其次，学校</tspan><tspan x="506.5" dy="15.6">要定期开展视力检查，加强眼保健的教育，宣</tspan><tspan x="506.5" dy="15.6">传、督促学生认真做眼保健操;最后，定期调</tspan><tspan x="506.5" dy="15.6">换座位……，只要是有效的方法我们都要用。</tspan></text>
</g>
<g id="p8-s3-1">
<rect class="lp" x="499" y="2120.5" width="257" height="137"/>
<text class="tp" x="506.5" y="2139"><tspan x="506.5" dy="0">要给自己的孩子创造一个良好的学习环境，如</tspan><tspan x="506.5" dy="15.6">灯光用8—15瓦日光灯或25—40瓦灯泡为宜</tspan><tspan x="506.5" dy="15.6">。其次是注意培养孩子们良好的用眼习惯：看</tspan><tspan x="506.5" dy="15.6">书坐姿端正，眼离书本约1尺，写字之手离笔</tspan><tspan x="506.5" dy="15.6">尖约1寸左右，看书每小时休息15分钟，眼睛</tspan><tspan x="506.5" dy="15.6">离电视屏幕距离是电视屏幕对角线的5倍等。</tspan><tspan x="506.5" dy="15.6">在饮食方面家长还要为孩子们眼睛的健康提供</tspan><tspan x="506.5" dy="15.6">全面的营养。</tspan></text>
</g>
<g id="p8-s4-1">
<rect class="lp" x="499" y="2284" width="257" height="75"/>
<text class="tp" x="506.5" y="2302.5"><tspan x="506.5" dy="0">作为一个孩子，一个学生应积极参加体育锻炼</tspan><tspan x="506.5" dy="15.6">和户外活动，增强体质，提高眼肌的调节力;</tspan><tspan x="506.5" dy="15.6">自觉做眼保健操;不挑食、不偏食;早睡早起，</tspan><tspan x="506.5" dy="15.6">合理安排学习时间，自觉保护自己的眼睛。</tspan></text>
</g>
</svg>
